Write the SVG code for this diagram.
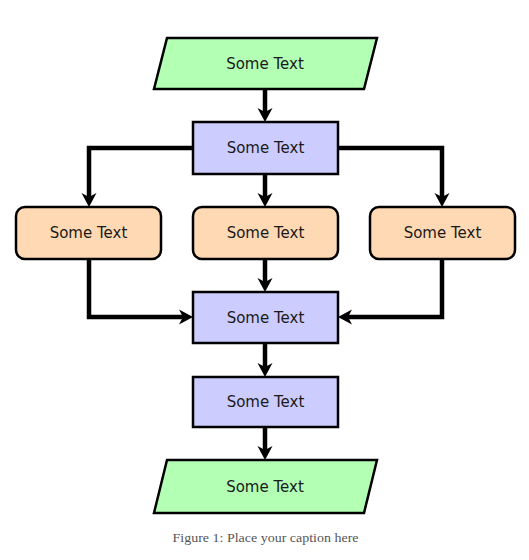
<svg xmlns="http://www.w3.org/2000/svg" width="529" height="560" viewBox="0 0 529 560">
<style>
.io{fill:#b3ffb3;stroke:#000;stroke-width:2.5;stroke-linejoin:miter}
.proc{fill:#ccccff;stroke:#000;stroke-width:2.5}
.dec{fill:#ffd9b3;stroke:#000;stroke-width:2.5}
.lbl{font-family:"DejaVu Sans","Liberation Sans",sans-serif;font-size:15px;fill:#1a1a1a;text-anchor:middle;dominant-baseline:central}
.con{fill:none;stroke:#000;stroke-width:4.5;stroke-linejoin:miter;marker-end:url(#arr)}
.cap{font-family:"Liberation Serif",serif;font-size:13px;fill:#555;text-anchor:middle}
</style>
<defs>
<marker id="arr" markerUnits="userSpaceOnUse" viewBox="-10 -9 18 18" markerWidth="18" markerHeight="18" refX="0" refY="0" orient="auto">
<path d="M6,0 L-8,-7.5 L-4,0 L-8,7.5 Z" fill="#000"/>
</marker>
</defs>
<rect width="529" height="560" fill="#fff"/>
<g id="connectors">
<path class="con" d="M265,89 V116"/>
<path class="con" d="M193,148 H89 V201"/>
<path class="con" d="M265,174 V201"/>
<path class="con" d="M338,148 H442 V201"/>
<path class="con" d="M89,259 V317 H187"/>
<path class="con" d="M265,259 V286"/>
<path class="con" d="M442,259 V317 H344"/>
<path class="con" d="M265,343 V371"/>
<path class="con" d="M265,427 V454"/>
</g>
<g id="n1"><polygon class="io" points="167,38 377,38 364,89 154,89"/><text class="lbl" x="265" y="64">Some Text</text></g>
<g id="n2"><rect class="proc" x="193" y="122" width="145" height="52"/><text class="lbl" x="265.5" y="148">Some Text</text></g>
<g id="n3"><rect class="dec" x="16" y="207" width="145" height="52" rx="9"/><text class="lbl" x="88.5" y="233">Some Text</text></g>
<g id="n4"><rect class="dec" x="193" y="207" width="145" height="52" rx="9"/><text class="lbl" x="265.5" y="233">Some Text</text></g>
<g id="n5"><rect class="dec" x="370" y="207" width="145" height="52" rx="9"/><text class="lbl" x="442.5" y="233">Some Text</text></g>
<g id="n6"><rect class="proc" x="193" y="292" width="145" height="51"/><text class="lbl" x="265.5" y="318">Some Text</text></g>
<g id="n7"><rect class="proc" x="193" y="377" width="145" height="50"/><text class="lbl" x="265.5" y="402">Some Text</text></g>
<g id="n8"><polygon class="io" points="167,460 377,460 364,513 154,513"/><text class="lbl" x="265" y="487">Some Text</text></g>
<text class="cap" x="265.5" y="542" textLength="186" lengthAdjust="spacingAndGlyphs">Figure 1: Place your caption here</text>
</svg>
